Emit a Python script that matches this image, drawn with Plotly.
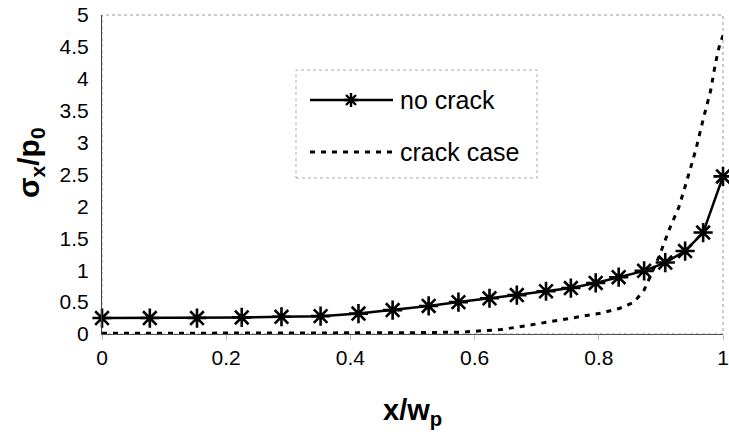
import plotly.graph_objects as go

# ---- data ----
x_no_crack = [0, 0.077, 0.153, 0.225, 0.289, 0.352, 0.413, 0.468, 0.526, 0.574, 0.624,
              0.668, 0.715, 0.755, 0.795, 0.832, 0.873, 0.907, 0.939, 0.968, 1.0]
y_no_crack = [0.25, 0.25, 0.25, 0.26, 0.27, 0.28, 0.32, 0.375, 0.44, 0.50, 0.56,
              0.61, 0.67, 0.72, 0.80, 0.89, 0.99, 1.12, 1.30, 1.59, 2.47]

x_crack = [0, 0.1, 0.2, 0.3, 0.4, 0.5, 0.58, 0.62, 0.643, 0.683, 0.725, 0.767, 0.805,
           0.833, 0.857, 0.873, 0.884, 0.897, 0.913, 0.929, 0.942, 0.956, 0.969,
           0.980, 0.988, 0.995, 1.0]
y_crack = [0.01, 0.01, 0.01, 0.015, 0.02, 0.02, 0.03, 0.05, 0.07, 0.13, 0.20, 0.27, 0.33,
           0.40, 0.50, 0.69, 0.92, 1.21, 1.63, 1.99, 2.41, 2.88, 3.40,
           3.81, 4.25, 4.55, 4.68]

series_names = ["no crack", "crack case"]
x_title = "<b>x/w<sub>p</sub></b>"
y_title = "<b>σ<sub>x</sub>/p<sub>0</sub></b>"

FONT = "Liberation Sans, Arial, sans-serif"

W, H = 729, 440
L, R, T, B = 102, 6, 15, 106
PW, PH = W - L - R, H - T - B


def px(xp):
    return (xp - L) / PW


def py(yp):
    return (H - B - yp) / PH


fig = go.Figure()
fig.add_trace(go.Scatter(
    x=x_no_crack, y=y_no_crack, name=series_names[0], mode="lines+markers",
    line=dict(color="black", width=2.5),
    marker=dict(symbol="asterisk-open", size=16, color="black",
                line=dict(color="black", width=2.6)),
    showlegend=False, cliponaxis=False))
fig.add_trace(go.Scatter(
    x=x_crack, y=y_crack, name=series_names[1], mode="lines",
    line=dict(color="black", width=3, dash="5px,6px"),
    showlegend=False, cliponaxis=False))

shapes = []
annotations = []
# plot frame
shapes.append(dict(type="rect", xref="paper", yref="paper", x0=0, x1=1, y0=0, y1=1,
                   line=dict(color="#999", width=1, dash="dot"), layer="below"))
# legend box
shapes.append(dict(type="rect", xref="paper", yref="paper",
                   x0=px(296), x1=px(537), y0=py(178), y1=py(70),
                   line=dict(color="#aaa", width=1, dash="dot"), layer="below"))
# legend row 1
shapes.append(dict(type="line", xref="paper", yref="paper",
                   x0=px(310), x1=px(393), y0=py(100), y1=py(100),
                   line=dict(color="black", width=2.5)))
cx, cy, r = 351, 100, 7
ast = (f"M{px(cx - r)},{py(cy)} L{px(cx + r)},{py(cy)} "
       f"M{px(cx)},{py(cy - r)} L{px(cx)},{py(cy + r)} "
       f"M{px(cx - 5)},{py(cy - 5)} L{px(cx + 5)},{py(cy + 5)} "
       f"M{px(cx - 5)},{py(cy + 5)} L{px(cx + 5)},{py(cy - 5)}")
shapes.append(dict(type="path", xref="paper", yref="paper", path=ast,
                   line=dict(color="black", width=2.4)))
annotations.append(dict(xref="paper", yref="paper", x=px(398), y=py(100),
                        xanchor="left", yanchor="middle", showarrow=False,
                        text=series_names[0], font=dict(size=25, color="black", family=FONT)))
# legend row 2
shapes.append(dict(type="line", xref="paper", yref="paper",
                   x0=px(310), x1=px(393), y0=py(152), y1=py(152),
                   line=dict(color="black", width=3, dash="5px,6px")))
annotations.append(dict(xref="paper", yref="paper", x=px(398), y=py(152),
                        xanchor="left", yanchor="middle", showarrow=False,
                        text=series_names[1], font=dict(size=25, color="black", family=FONT)))
# axis titles
annotations.append(dict(xref="paper", yref="paper", x=0.5, y=py(412),
                        xanchor="center", yanchor="middle", showarrow=False,
                        text=x_title, font=dict(size=29, color="black", family=FONT)))
annotations.append(dict(xref="paper", yref="paper", x=px(30), y=py(163),
                        xanchor="center", yanchor="middle", showarrow=False, textangle=-90,
                        text=y_title, font=dict(size=30, color="black", family=FONT)))

fig.update_layout(
    width=W, height=H,
    margin=dict(l=L, r=R, t=T, b=B, autoexpand=False),
    paper_bgcolor="white", plot_bgcolor="white",
    font=dict(family=FONT, color="black", size=21),
    shapes=shapes, annotations=annotations,
    showlegend=False,
)
fig.update_xaxes(range=[0, 1], dtick=0.2, tick0=0, showgrid=False, zeroline=False,
                 showline=True, linecolor="#555", linewidth=1, automargin=False,
                 ticks="outside", ticklen=5, tickcolor="#bbb",
                 tickfont=dict(size=21, family=FONT))
fig.update_yaxes(range=[0, 5], dtick=0.5, tick0=0, showgrid=False, zeroline=False,
                 showline=True, linecolor="#444", linewidth=1, automargin=False,
                 ticks="outside", ticklen=8, tickcolor="rgba(0,0,0,0)",
                 tickfont=dict(size=21, family=FONT))

fig.write_html("out.html", config={"displayModeBar": False})

# remove default page margin so the figure sits at the window's top-left corner
with open("out.html", "r", encoding="utf-8") as f:
    html = f.read()
html = html.replace("<head>", "<head><style>html,body{margin:0;padding:0;overflow:hidden;}</style>", 1)
with open("out.html", "w", encoding="utf-8") as f:
    f.write(html)
